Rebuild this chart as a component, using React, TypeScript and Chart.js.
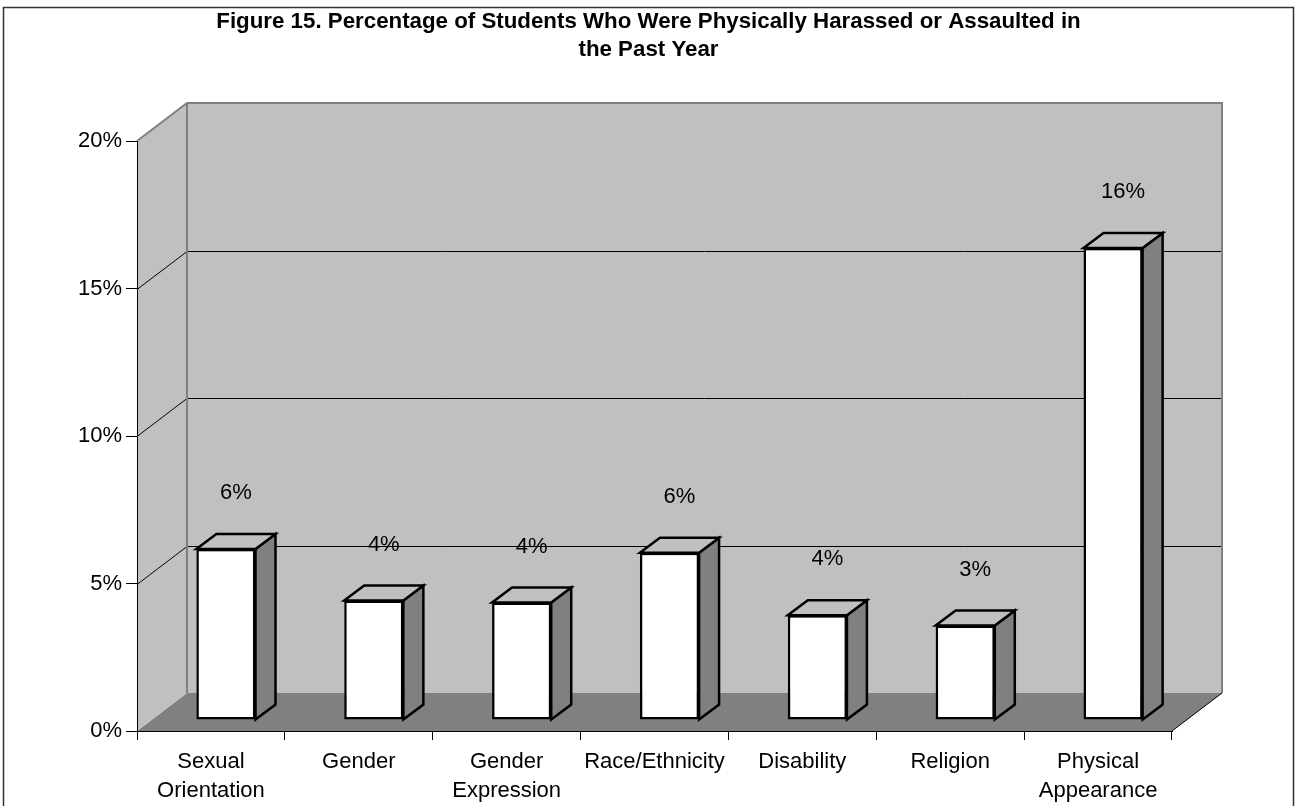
import { useEffect, useRef } from "react";
import { Chart, registerables } from "chart.js";

Chart.register(...registerables);

// ---- data ----
const categories: (string | string[])[] = [
  ["Sexual", "Orientation"],
  "Gender",
  ["Gender", "Expression"],
  "Race/Ethnicity",
  "Disability",
  "Religion",
  ["Physical", "Appearance"],
];
const percentages = [5.8, 4.05, 3.98, 5.67, 3.55, 3.2, 16.0];
const titleLines = [
  "Figure 15. Percentage of Students Who Were Physically Harassed or Assaulted in",
  "the Past Year",
];
const yTickValues = [0, 5, 10, 15, 20];

// ---- look ----
const FONT = "'Liberation Sans', Arial, sans-serif";
const WALL_GRAY = "#C0C0C0";
const DARK_GRAY = "#808080";
// oblique projection of the box: full depth, bar front offset, bar depth
const WALL_DX = 50;
const WALL_DY = -38;
const FRONT_DX = 15;
const FRONT_DY = -11;
const DEPTH_DX = 20;
const DEPTH_DY = -15;
const LABEL_LIFT = 41;

type Pt = [number, number];

function path(ctx: CanvasRenderingContext2D, pts: Pt[], close = true) {
  ctx.beginPath();
  ctx.moveTo(pts[0][0], pts[0][1]);
  for (let i = 1; i < pts.length; i++) ctx.lineTo(pts[i][0], pts[i][1]);
  if (close) ctx.closePath();
}

const boxPlugin = {
  id: "box3d",
  beforeDraw(chart: any) {
    const { ctx, chartArea: a, scales } = chart;
    const ys = scales.y;
    const L = a.left, R = a.right, T = a.top, B = a.bottom;
    ctx.save();

    // outer frame
    ctx.strokeStyle = "#333";
    ctx.lineWidth = 1.5;
    ctx.strokeRect(3.5, 7.5, chart.width - 7, chart.height + 40);

    // floor
    ctx.fillStyle = DARK_GRAY;
    path(ctx, [[L, B], [L + WALL_DX, B + WALL_DY], [R + WALL_DX, B + WALL_DY], [R, B]]);
    ctx.fill();

    // side wall and back wall
    ctx.fillStyle = WALL_GRAY;
    path(ctx, [[L, T], [L + WALL_DX, T + WALL_DY], [L + WALL_DX, B + WALL_DY], [L, B]]);
    ctx.fill();
    ctx.fillRect(L + WALL_DX, T + WALL_DY, R - L, B - T);

    // gridlines along side and back walls
    ctx.strokeStyle = "#000";
    ctx.lineWidth = 1;
    for (const v of yTickValues) {
      if (v <= ys.min || v >= ys.max) continue;
      const py = Math.round(ys.getPixelForValue(v)) + 0.5;
      path(ctx, [[L, py], [L + WALL_DX, py + WALL_DY], [R + WALL_DX, py + WALL_DY]], false);
      ctx.stroke();
    }

    // wall edges
    ctx.strokeStyle = DARK_GRAY;
    ctx.lineWidth = 2;
    path(ctx, [[L, T], [L + WALL_DX, T + WALL_DY], [R + WALL_DX, T + WALL_DY], [R + WALL_DX, B + WALL_DY]], false);
    ctx.stroke();
    path(ctx, [[L + WALL_DX, T + WALL_DY], [L + WALL_DX, B + WALL_DY]], false);
    ctx.stroke();

    // floor right edge
    ctx.strokeStyle = "#000";
    ctx.lineWidth = 1;
    path(ctx, [[R, B], [R + WALL_DX, B + WALL_DY]], false);
    ctx.stroke();

    ctx.restore();
  },
  beforeDatasetsDraw(chart: any) {
    chart.ctx.save();
    chart.ctx.translate(FRONT_DX, FRONT_DY);
  },
  afterDatasetsDraw(chart: any) {
    const ctx: CanvasRenderingContext2D = chart.ctx;
    ctx.restore();
    const meta = chart.getDatasetMeta(0);
    const values: number[] = chart.data.datasets[0].data;
    ctx.save();
    ctx.lineWidth = 2.5;
    ctx.lineJoin = "miter";
    ctx.strokeStyle = "#000";
    meta.data.forEach((bar: any, i: number) => {
      const { x, y, base, width } = bar.getProps(["x", "y", "base", "width"], true);
      const xl = x - width / 2 + FRONT_DX;
      const xr = x + width / 2 + FRONT_DX;
      const yt = y + FRONT_DY;
      const yb = base + FRONT_DY;

      // right side face
      ctx.fillStyle = DARK_GRAY;
      path(ctx, [[xr, yt], [xr + DEPTH_DX, yt + DEPTH_DY], [xr + DEPTH_DX, yb + DEPTH_DY], [xr, yb]]);
      ctx.fill();
      ctx.stroke();

      // top face
      ctx.fillStyle = WALL_GRAY;
      path(ctx, [[xl, yt], [xl + DEPTH_DX, yt + DEPTH_DY], [xr + DEPTH_DX, yt + DEPTH_DY], [xr, yt]]);
      ctx.fill();
      ctx.stroke();

      // value label
      ctx.fillStyle = "#000";
      ctx.font = `22px ${FONT}`;
      ctx.textAlign = "center";
      ctx.textBaseline = "middle";
      ctx.fillText(`${Math.round(values[i])}%`, x + FRONT_DX + DEPTH_DX / 2, yt + DEPTH_DY - LABEL_LIFT);
    });
    ctx.restore();
  },
};

export default function App() {
  const ref = useRef<HTMLCanvasElement>(null);

  useEffect(() => {
    document.body.style.margin = "0";
    const chart = new Chart(ref.current as HTMLCanvasElement, {
      type: "bar",
      data: {
        labels: categories,
        datasets: [
          {
            data: percentages,
            backgroundColor: "#FFFFFF",
            borderColor: "#000000",
            borderWidth: 2.5,
            borderSkipped: false,
            barPercentage: 0.4,
            categoryPercentage: 1,
            clip: false,
            yAxisID: "y",
          } as any,
        ],
      },
      options: {
        animation: false,
        responsive: false,
        devicePixelRatio: 1,
        layout: { padding: 0 },
        plugins: {
          legend: { display: false },
          tooltip: { enabled: false },
          title: {
            display: true,
            text: titleLines,
            color: "#000",
            font: { family: FONT, size: 22.3, weight: "bold", lineHeight: 28 / 22.3 },
            padding: { top: 8, bottom: 77 },
          },
        },
        scales: {
          x: {
            type: "category",
            offset: true,
            grid: { offset: true, drawOnChartArea: false, drawTicks: true, tickLength: 9, color: "#000" },
            border: { display: true, color: "#000", width: 1 },
            ticks: {
              color: "#000",
              font: { family: FONT, size: 22, lineHeight: 29 / 22 },
              padding: 7,
              maxRotation: 0,
              autoSkip: false,
            },
            afterFit(scale: any) {
              scale.height = 75;
            },
          },
          y: {
            min: 0,
            max: 20,
            grid: { drawOnChartArea: false, drawTicks: true, tickLength: 11, color: "#000" },
            border: { display: true, color: "#000", width: 1 },
            ticks: {
              stepSize: 5,
              color: "#000",
              padding: 4,
              font: { family: FONT, size: 22 },
              callback: (v: any) => `${v}%`,
            },
            afterFit(scale: any) {
              scale.width = 137;
            },
          },
          // empty right-hand axis that reserves room for the box depth
          yDepth: {
            type: "linear",
            position: "right",
            display: true,
            grid: { display: false, drawTicks: false },
            border: { display: false },
            ticks: { display: false },
            afterFit(scale: any) {
              scale.width = 125;
            },
          },
        },
      },
      plugins: [boxPlugin],
    });
    return () => chart.destroy();
  }, []);

  return (
    <div style={{ width: 1297, height: 806, position: "relative", background: "#fff" }}>
      <canvas ref={ref} width={1297} height={806} style={{ display: "block" }} />
    </div>
  );
}
